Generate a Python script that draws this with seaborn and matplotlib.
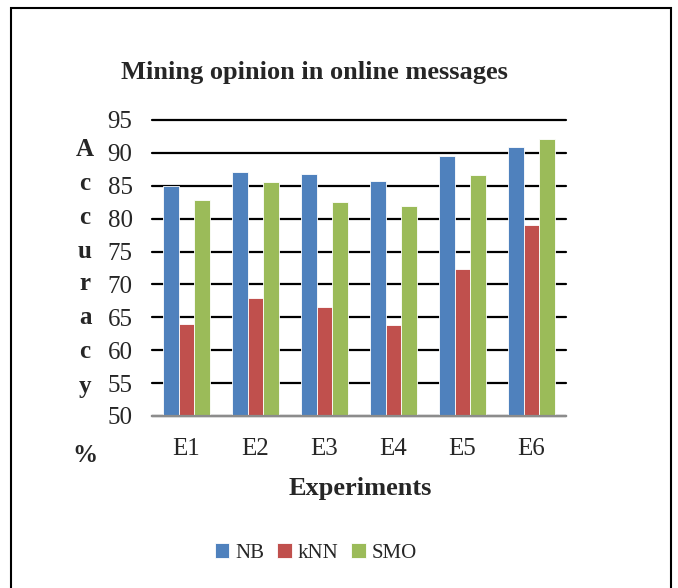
import matplotlib
matplotlib.use("Agg")
import matplotlib.pyplot as plt
import pandas as pd
import seaborn as sns
from matplotlib.patches import Rectangle

# valores
experimentos = ["E1", "E2", "E3", "E4", "E5", "E6"]
modelos = ["NB", "kNN", "SMO"]
precision_nb = [85.0, 87.1, 86.8, 85.7, 89.5, 90.9]
precision_knn = [64.0, 67.9, 66.6, 63.9, 72.4, 79.0]
precision_smo = [82.9, 85.5, 82.5, 81.9, 86.7, 92.1]
ticks_y = [50, 55, 60, 65, 70, 75, 80, 85, 90, 95]
letras_eje_y = ["A", "c", "c", "u", "r", "a", "c", "y", "%"]
colores = ["#4F81BD", "#C0504D", "#9BBB59"]

df = pd.DataFrame(
    {
        "experimento": experimentos * 3,
        "modelo": [m for m in modelos for _ in experimentos],
        "accuracy": precision_nb + precision_knn + precision_smo,
    }
)

sns.set_theme(style="white")
plt.rcParams["font.family"] = ["Liberation Serif", "DejaVu Serif"]

fig = plt.figure(figsize=(6.78, 5.88), dpi=100)
ax = fig.add_axes([152 / 678, 1 - 416 / 588, 414 / 678, 296 / 588])

sns.barplot(
    data=df,
    x="experimento",
    y="accuracy",
    hue="modelo",
    hue_order=modelos,
    palette=colores,
    width=0.67,
    gap=0,
    edgecolor="white",
    linewidth=0.6,
    saturation=1,
    ax=ax,
    zorder=3,
)

ax.set_ylim(50, 95)
ax.set_yticks(ticks_y)
ax.set_xlim(-0.5, len(experimentos) - 0.5)
ax.yaxis.grid(True, color="black", linewidth=1.6, zorder=0)
ax.set_axisbelow(True)
for linea in ax.get_ygridlines():
    linea.set_clip_on(False)
for lado in ["left", "right", "top"]:
    ax.spines[lado].set_visible(False)
ax.spines["bottom"].set_color("#8c8c8c")
ax.spines["bottom"].set_linewidth(1.6)
ax.spines["bottom"].set_zorder(4)
ax.tick_params(axis="x", length=0, pad=16, labelsize=18)
ax.tick_params(axis="y", length=0, pad=14, labelsize=18)
ax.set_xlabel("")
ax.set_ylabel("")
ax.legend_.remove()

fig.text(314 / 678, 1 - 73 / 588, "Mining opinion in online messages",
         ha="center", va="center", fontsize=19, fontweight="bold")
fig.text(360 / 678, 1 - 488 / 588, "Experiments",
         ha="center", va="center", fontsize=19, fontweight="bold")

posiciones_letras = [150, 184, 217, 251, 284, 318, 351, 386, 455]
for letra, ypix in zip(letras_eje_y, posiciones_letras):
    fig.text(85 / 678, 1 - ypix / 588, letra, ha="center", va="center",
             fontsize=18, fontweight="bold")

handles, labels = ax.get_legend_handles_labels()
fig.legend(
    handles, labels,
    loc="center",
    bbox_to_anchor=(316 / 678, 1 - 553 / 588),
    ncol=3,
    frameon=False,
    fontsize=15,
    handlelength=0.7,
    handleheight=0.7,
    handletextpad=0.3,
    columnspacing=0.6,
)

marco = Rectangle((11 / 678, -0.05), 660 / 678, 1 - 8 / 588 + 0.05,
                  transform=fig.transFigure, fill=False,
                  edgecolor="black", linewidth=1.5)
fig.patches.append(marco)

fig.savefig("out.png", dpi=100)
